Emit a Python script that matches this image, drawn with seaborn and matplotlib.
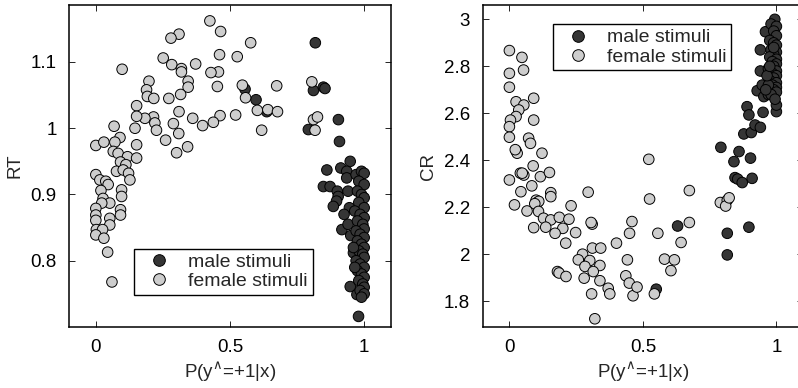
import numpy as np
import pandas as pd
import seaborn as sns
import matplotlib.pyplot as plt

# ---------------------------------------------------------------
# valeurs (P(y^=+1|x), RT) et (P, CR)

rt_male_p = [0.818, 0.811, 0.848, 0.854, 0.556, 0.597, 0.637, 0.792, 0.904, 0.908,
             0.948, 0.861, 0.913, 0.935, 0.848, 0.873, 0.900, 0.903, 0.897, 0.885,
             0.935, 0.940, 0.945, 0.925, 0.917, 0.940, 0.950, 0.960, 0.948, 0.973, 0.979,
             0.97, 0.99, 1.0, 0.98, 1.0, 0.975, 0.99, 1.0, 0.98, 1.0, 0.965, 0.985, 1.0,
             0.975, 0.995, 1.0, 0.97, 0.985, 1.0, 0.975, 0.99, 1.0, 0.98, 0.995, 1.0,
             0.97, 0.985, 1.0, 0.975, 0.99, 1.0, 0.98, 0.995, 1.0, 0.985, 1.0, 0.99,
             0.965, 0.96]
rt_male = [1.129, 1.057, 1.062, 1.060, 1.059, 1.043, 1.025, 0.998, 1.013, 0.980,
           0.950, 0.937, 0.940, 0.935, 0.912, 0.912, 0.905, 0.897, 0.890, 0.882,
           0.925, 0.905, 0.880, 0.870, 0.847, 0.855, 0.838, 0.812, 0.761, 0.749, 0.716,
           0.930, 0.935, 0.932, 0.920, 0.915, 0.905, 0.900, 0.895, 0.888, 0.880, 0.875, 0.870, 0.865,
           0.860, 0.855, 0.848, 0.845, 0.840, 0.835, 0.830, 0.825, 0.820, 0.815, 0.810, 0.805,
           0.800, 0.795, 0.790, 0.785, 0.780, 0.775, 0.770, 0.765, 0.760, 0.755, 0.750, 0.745,
           0.790, 0.820]

rt_female_p = [0.425, 0.465, 0.310, 0.280, 0.577, 0.527, 0.251, 0.461, 0.283, 0.372,
               0.319, 0.319, 0.098, 0.457, 0.429, 0.344, 0.198, 0.344, 0.316, 0.272,
               0.189, 0.192, 0.453, 0.546, 0.674, 0.558, 0.216, 0.152, 0.602, 0.641,
               0.677, 0.521, 0.463, 0.361, 0.310, 0.215, 0.183, 0.152, 0.438, 0.398,
               0.289, 0.220, 0.226, 0.146, 0.618, 0.309, 0.260, 0.068, 0.090, 0.152,
               0.342, 0.301, 0.0, 0.030, 0.071, 0.065, 0.083, 0.118, 0.152, 0.092,
               0.112, 0.077, 0.102, 0.122, 0.127, 0.0, 0.015, 0.037, 0.046, 0.019,
               0.096, 0.096, 0.027, 0.052, 0.022, 0.0, 0.0, 0.0, 0.052, 0.092,
               0.092, 0.052, 0.002, 0.025, 0.0, 0.030, 0.044, 0.060,
               0.805, 0.811, 0.826, 0.817]
rt_female = [1.162, 1.146, 1.142, 1.136, 1.129, 1.108, 1.106, 1.111, 1.096, 1.097,
             1.090, 1.085, 1.089, 1.085, 1.084, 1.071, 1.071, 1.062, 1.051, 1.045,
             1.058, 1.048, 1.063, 1.065, 1.064, 1.046, 1.045, 1.034, 1.027, 1.028,
             1.025, 1.020, 1.019, 1.015, 1.025, 1.017, 1.015, 1.018, 1.009, 1.004,
             1.007, 1.008, 0.997, 1.000, 0.997, 0.992, 0.982, 1.003, 0.986, 0.975,
             0.972, 0.963, 0.974, 0.979, 0.979, 0.965, 0.962, 0.957, 0.955, 0.949,
             0.945, 0.935, 0.937, 0.932, 0.922, 0.930, 0.922, 0.920, 0.915, 0.906,
             0.907, 0.897, 0.894, 0.887, 0.887, 0.879, 0.869, 0.861, 0.864, 0.877,
             0.869, 0.854, 0.847, 0.847, 0.839, 0.834, 0.813, 0.768,
             1.070, 1.013, 1.017, 0.997]

cr_male_p = [0.630, 0.550, 0.792, 0.816, 0.816, 0.897, 0.860, 0.841, 0.903, 0.845,
             0.855, 0.872, 0.909, 0.878, 0.906, 0.890, 0.897, 0.920, 0.940, 0.950,
             0.928, 0.953, 0.970, 0.947, 0.940, 0.940, 0.959, 0.994, 1.0, 1.0,
             0.98, 1.0, 0.99, 1.0, 0.975, 0.99, 1.0, 0.98, 1.0, 0.99, 0.975, 1.0,
             0.985, 1.0, 0.99, 0.97, 1.0, 0.985, 1.0, 0.99, 0.975, 1.0, 0.985, 1.0,
             0.99, 0.97, 1.0, 0.98, 0.995, 0.96, 0.965, 0.99, 0.975]
cr_male = [2.120, 1.851, 2.455, 2.089, 1.997, 2.115, 2.437, 2.394, 2.409, 2.326,
           2.320, 2.305, 2.323, 2.512, 2.518, 2.628, 2.593, 2.550, 2.540, 2.604,
           2.696, 2.671, 2.680, 2.720, 2.870, 2.780, 2.947, 3.000, 2.607, 2.635,
           2.98, 2.97, 2.95, 2.93, 2.91, 2.90, 2.89, 2.87, 2.86, 2.85, 2.84, 2.83,
           2.82, 2.81, 2.80, 2.79, 2.78, 2.77, 2.76, 2.75, 2.74, 2.73, 2.72, 2.71,
           2.70, 2.72, 2.69, 2.68, 2.66, 2.70, 2.76, 2.88, 2.80]

cr_female_p = [0.0, 0.047, 0.0, 0.053, 0.0, 0.091, 0.025, 0.054, 0.035, 0.025,
               0.004, 0.0, 0.0, 0.091, 0.072, 0.079, 0.122, 0.025, 0.029, 0.022,
               0.041, 0.054, 0.048, 0.089, 0.116, 0.150, 0.0, 0.043, 0.084, 0.155,
               0.155, 0.100, 0.105, 0.110, 0.095, 0.019, 0.231, 0.066, 0.109, 0.128,
               0.155, 0.187, 0.223, 0.091, 0.136, 0.200, 0.171, 0.248, 0.211, 0.295,
               0.310, 0.306, 0.274, 0.258, 0.301, 0.283, 0.311, 0.342, 0.339, 0.280,
               0.314, 0.339, 0.180, 0.186, 0.212, 0.308, 0.370, 0.376, 0.320, 0.401,
               0.442, 0.436, 0.449, 0.459, 0.450, 0.463, 0.478, 0.522, 0.525, 0.556,
               0.543, 0.581, 0.618, 0.605, 0.643, 0.674, 0.674, 0.790, 0.816, 0.810,
               0.823]
cr_female = [2.867, 2.838, 2.770, 2.784, 2.711, 2.664, 2.649, 2.635, 2.614, 2.586,
             2.571, 2.543, 2.498, 2.571, 2.494, 2.472, 2.430, 2.440, 2.430, 2.445,
             2.345, 2.337, 2.345, 2.376, 2.330, 2.348, 2.316, 2.266, 2.291, 2.262,
             2.245, 2.230, 2.220, 2.225, 2.215, 2.210, 2.206, 2.184, 2.182, 2.153,
             2.146, 2.157, 2.149, 2.113, 2.115, 2.110, 2.089, 2.092, 2.047, 2.264,
             2.128, 2.135, 2.000, 1.976, 1.973, 1.948, 2.026, 2.026, 1.952, 1.898,
             1.926, 1.887, 1.926, 1.920, 1.905, 1.831, 1.855, 1.831, 1.725, 2.047,
             1.976, 1.908, 1.877, 2.139, 2.089, 1.823, 1.860, 2.404, 2.235, 2.089,
             1.831, 1.979, 1.976, 1.930, 2.050, 2.271, 2.135, 2.220, 2.230, 2.205,
             2.240]

labels = ['male stimuli', 'female stimuli']
couleurs = {'male stimuli': '#353535', 'female stimuli': '#cdcdcd'}

# ---------------------------------------------------------------
def make_df(mp, mv, fp, fv, name):
    # males d'abord -> les femelles sont dessinées par-dessus
    df_m = pd.DataFrame({'P': mp, name: mv, 'stim': labels[0]})
    df_f = pd.DataFrame({'P': fp, name: fv, 'stim': labels[1]})
    return pd.concat([df_m, df_f], ignore_index=True)

df_rt = make_df(rt_male_p, rt_male, rt_female_p, rt_female, 'RT')
df_cr = make_df(cr_male_p, cr_male, cr_female_p, cr_female, 'CR')

sns.set_style('ticks', {'xtick.direction': 'in', 'ytick.direction': 'in'})
plt.rcParams['font.family'] = ['Liberation Sans', 'DejaVu Sans']

fig = plt.figure(figsize=(7.98, 3.88), dpi=100)
ax1 = fig.add_axes([69 / 798, 61 / 388, 322 / 798, 322 / 388])
ax2 = fig.add_axes([482.7 / 798, 61 / 388, 320.4 / 798, 322 / 388])

panels = [(ax1, df_rt, 'RT', (0.7, 1.186), [0.8, 0.9, 1.0, 1.1], ['0.8', '0.9', '1', '1.1'],
           dict(loc='lower left', bbox_to_anchor=(0.202, 0.099))),
          (ax2, df_cr, 'CR', (1.69, 3.061), [1.8, 2.0, 2.2, 2.4, 2.6, 2.8, 3.0],
           ['1.8', '2', '2.2', '2.4', '2.6', '2.8', '3'],
           dict(loc='upper left', bbox_to_anchor=(0.218, 0.941)))]

for ax, data, col, ylim, yt, ytl, leg_kw in panels:
    sns.scatterplot(data=data, x='P', y=col, hue='stim', hue_order=labels, palette=couleurs,
                    s=58, edgecolor='black', linewidth=0.7, alpha=1, ax=ax)
    ax.set_xlim(-0.1, 1.1)
    ax.set_ylim(*ylim)
    ax.set_xticks([0, 0.5, 1])
    ax.set_xticklabels(['0', '0.5', '1'])
    ax.set_yticks(yt)
    ax.set_yticklabels(ytl)
    ax.tick_params(top=True, right=True, length=4, width=0.6, labelsize=13.5, pad=9, colors='black')
    for sp in ax.spines.values():
        sp.set_visible(True)
        sp.set_linewidth(1.1)
        sp.set_color('black')
    ax.set_xlabel('P(y$^{\\wedge}$=+1|x)', fontsize=13.5, labelpad=3)
    ax.set_ylabel(col, fontsize=13.5, labelpad=5)
    leg = ax.legend(fontsize=14, frameon=True, fancybox=False, edgecolor='black',
                    framealpha=1, handletextpad=0.45, borderpad=0.25, labelspacing=0.08,
                    handlelength=2.1, borderaxespad=0, markerscale=1.1, **leg_kw)
    leg.get_frame().set_linewidth(1.0)
    for h in leg.legend_handles:
        h.set_markeredgecolor('black')
        h.set_markeredgewidth(0.7)

fig.savefig('out.png', dpi=100)
